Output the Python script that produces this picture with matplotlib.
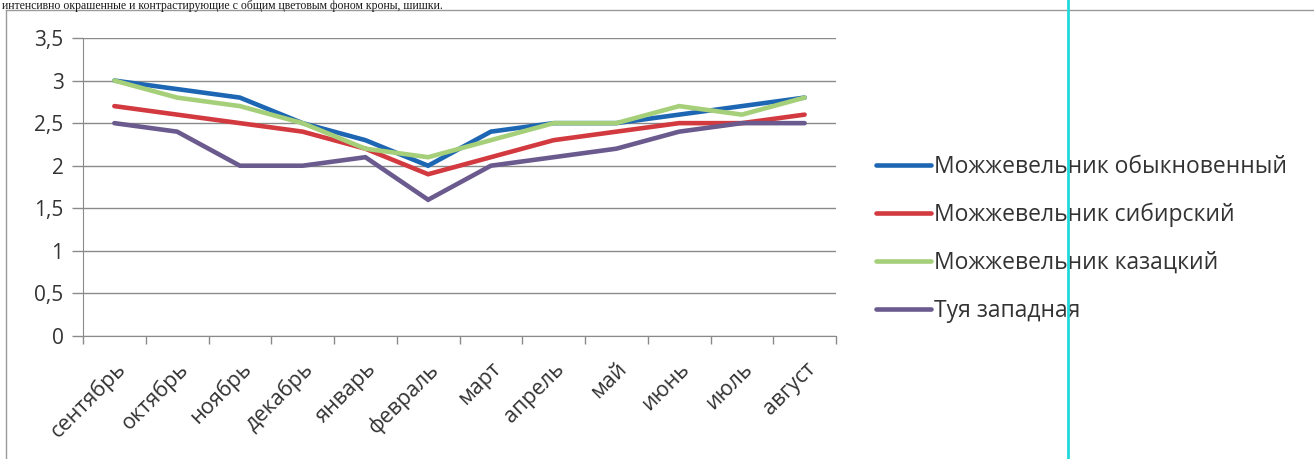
import matplotlib
matplotlib.use("Agg")
import matplotlib.pyplot as plt
from matplotlib.lines import Line2D

plt.rcParams['font.family'] = ['Open Sans', 'DejaVu Sans']

months = ["сентябрь", "октябрь", "ноябрь", "декабрь", "январь", "февраль",
          "март", "апрель", "май", "июнь", "июль", "август"]
juniper_common = [3.0, 2.9, 2.8, 2.5, 2.3, 2.0, 2.4, 2.5, 2.5, 2.6, 2.7, 2.8]
juniper_siberian = [2.7, 2.6, 2.5, 2.4, 2.2, 1.9, 2.1, 2.3, 2.4, 2.5, 2.5, 2.6]
juniper_cossack = [3.0, 2.8, 2.7, 2.5, 2.2, 2.1, 2.3, 2.5, 2.5, 2.7, 2.6, 2.8]
thuja_western = [2.5, 2.4, 2.0, 2.0, 2.1, 1.6, 2.0, 2.1, 2.2, 2.4, 2.5, 2.5]
series_names = ["Можжевельник обыкновенный", "Можжевельник сибирский",
                "Можжевельник казацкий", "Туя западная"]
y_ticks = [0, 0.5, 1, 1.5, 2, 2.5, 3, 3.5]
y_tick_labels = ["0", "0,5", "1", "1,5", "2", "2,5", "3", "3,5"]

colors = ["#1d66b3", "#d23a40", "#a5cf79", "#6a5a8e"]
series = [juniper_common, juniper_siberian, juniper_cossack, thuja_western]

W, H = 1314, 459
fig = plt.figure(figsize=(W / 100, H / 100), dpi=100)
fig.patch.set_facecolor("white")

# caption line of the page above the chart
fig.text(2 / W, 1 - 8.5 / H,
         "интенсивно окрашенные и контрастирующие с общим цветовым фоном кроны, шишки.",
         family="Liberation Serif", fontsize=8.5, color="#1a1a1a",
         ha="left", va="baseline")

# chart frame
fig.add_artist(Line2D([6 / W, 1], [1 - 10 / H, 1 - 10 / H], transform=fig.transFigure,
                      color="#9a9a9a", lw=1.0))
fig.add_artist(Line2D([6 / W, 6 / W], [0, 1 - 10 / H], transform=fig.transFigure,
                      color="#9a9a9a", lw=1.0))

ax = fig.add_axes([83 / W, 1 - 336 / H, (836 - 83) / W, (336 - 38) / H])
x = list(range(len(months)))
for vals, c, name in zip(series, colors, series_names):
    ax.plot(x, vals, color=c, lw=3.3, label=name, solid_capstyle="round",
            solid_joinstyle="miter", zorder=3)

ax.set_xlim(-0.5, len(months) - 0.5)
ax.set_ylim(0, 3.5)
ax.set_yticks(y_ticks)
ax.set_yticklabels(y_tick_labels, fontsize=15, color="#333333")
ax.yaxis.grid(True, color="#8a8a8a", lw=1.0)
ax.set_axisbelow(True)

ax.set_xticks(x)
ax.set_xticklabels(months, rotation=45, ha="right", rotation_mode="anchor",
                   fontsize=15.5, color="#333333")
ax.set_xticks([i - 0.5 for i in range(len(months) + 1)], minor=True)
ax.tick_params(axis="x", which="major", length=0, pad=16)
ax.tick_params(axis="x", which="minor", length=6, color="#8a8a8a", width=1, direction="out")
ax.tick_params(axis="y", length=8, color="#8a8a8a", width=1, direction="out", pad=6)

for s in ["top", "right"]:
    ax.spines[s].set_visible(False)
ax.spines["left"].set_color("#8a8a8a")
ax.spines["bottom"].set_color("#8a8a8a")

ax.legend(loc="upper left", bbox_to_anchor=(860 / W, 1 - 139 / H),
          bbox_transform=fig.transFigure, frameon=False, fontsize=16.5,
          handlelength=2.4, handletextpad=0.12, labelspacing=1.04,
          borderpad=0.2, labelcolor="#333333")

# vertical guide line
fig.add_artist(Line2D([1068 / W, 1068 / W], [0, 1], transform=fig.transFigure,
                      color="#22d8dc", lw=2.0))

fig.savefig("out.png", dpi=100)
